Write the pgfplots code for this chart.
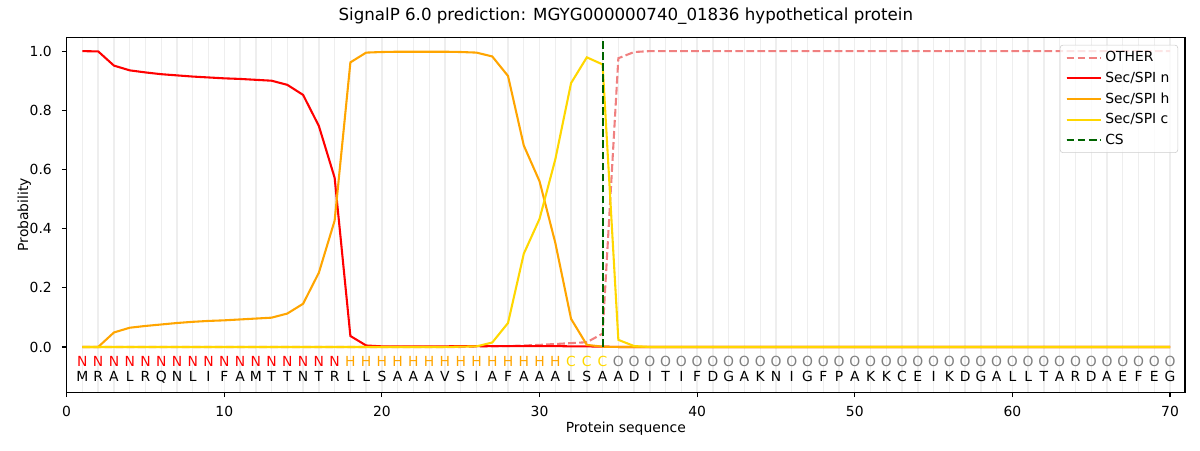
\documentclass[border=0pt]{standalone}
\usepackage{fontspec}
\setmainfont{DejaVu Sans}
\usepackage{pgfplots}
\usepackage{pgfplotstable}
\pgfplotsset{compat=1.18}
\definecolor{cother}{HTML}{F08080}
\definecolor{csecn}{HTML}{FF0000}
\definecolor{csech}{HTML}{FFA500}
\definecolor{csecc}{HTML}{FFD700}
\definecolor{ccs}{HTML}{006400}
\definecolor{cogray}{HTML}{808080}
\definecolor{cgrid}{HTML}{EEEEEE}

\pgfplotstableread{
x other n h c
1 0 1.000 0 0
2 0 0.999 0 0
3 0 0.951 0.049 0
4 0 0.935 0.065 0
5 0 0.928 0.071 0
6 0 0.922 0.076 0
7 0 0.918 0.081 0
8 0 0.914 0.085 0
9 0 0.911 0.088 0
10 0 0.908 0.090 0
11 0 0.906 0.093 0
12 0 0.903 0.096 0
13 0 0.900 0.099 0
14 0 0.886 0.113 0
15 0 0.852 0.146 0
16 0 0.747 0.251 0
17 0 0.572 0.427 0
18 0 0.037 0.962 0
19 0 0.005 0.995 0
20 0 0.002 0.997 0
21 0 0.002 0.998 0
22 0 0.002 0.998 0
23 0 0.002 0.998 0
24 0 0.002 0.998 0
25 0 0.003 0.997 0.001
26 0.001 0.003 0.995 0.002
27 0.002 0.003 0.982 0.015
28 0.003 0.003 0.916 0.081
29 0.005 0.003 0.681 0.315
30 0.007 0.003 0.560 0.433
31 0.010 0.003 0.352 0.634
32 0.013 0.002 0.095 0.892
33 0.016 0.002 0.007 0.979
34 0.045 0.001 0.001 0.955
35 0.976 0 0 0.024
36 0.997 0 0 0.003
37 1 0 0 0
38 1 0 0 0
39 1 0 0 0
40 1 0 0 0
41 1 0 0 0
42 1 0 0 0
43 1 0 0 0
44 1 0 0 0
45 1 0 0 0
46 1 0 0 0
47 1 0 0 0
48 1 0 0 0
49 1 0 0 0
50 1 0 0 0
51 1 0 0 0
52 1 0 0 0
53 1 0 0 0
54 1 0 0 0
55 1 0 0 0
56 1 0 0 0
57 1 0 0 0
58 1 0 0 0
59 1 0 0 0
60 1 0 0 0
61 1 0 0 0
62 1 0 0 0
63 1 0 0 0
64 1 0 0 0
65 1 0 0 0
66 1 0 0 0
67 1 0 0 0
68 1 0 0 0
69 1 0 0 0
70 1 0 0 0
}\probs

\pgfplotstableread{
x y res
1 -0.1176 M
2 -0.1176 R
3 -0.1176 A
4 -0.1176 L
5 -0.1176 R
6 -0.1176 Q
7 -0.1176 N
8 -0.1176 L
9 -0.1176 I
10 -0.1176 F
11 -0.1176 A
12 -0.1176 M
13 -0.1176 T
14 -0.1176 T
15 -0.1176 N
16 -0.1176 T
17 -0.1176 R
18 -0.1176 L
19 -0.1176 L
20 -0.1176 S
21 -0.1176 A
22 -0.1176 A
23 -0.1176 A
24 -0.1176 V
25 -0.1176 S
26 -0.1176 I
27 -0.1176 A
28 -0.1176 F
29 -0.1176 A
30 -0.1176 A
31 -0.1176 A
32 -0.1176 L
33 -0.1176 S
34 -0.1176 A
35 -0.1176 A
36 -0.1176 D
37 -0.1176 I
38 -0.1176 T
39 -0.1176 I
40 -0.1176 F
41 -0.1176 D
42 -0.1176 G
43 -0.1176 A
44 -0.1176 K
45 -0.1176 N
46 -0.1176 I
47 -0.1176 G
48 -0.1176 F
49 -0.1176 P
50 -0.1176 A
51 -0.1176 K
52 -0.1176 K
53 -0.1176 C
54 -0.1176 E
55 -0.1176 I
56 -0.1176 K
57 -0.1176 D
58 -0.1176 G
59 -0.1176 A
60 -0.1176 L
61 -0.1176 L
62 -0.1176 T
63 -0.1176 A
64 -0.1176 R
65 -0.1176 D
66 -0.1176 A
67 -0.1176 E
68 -0.1176 F
69 -0.1176 E
70 -0.1176 G
}\seqtab

\pgfplotstableread{
x y st
1 -0.0667 N
2 -0.0667 N
3 -0.0667 N
4 -0.0667 N
5 -0.0667 N
6 -0.0667 N
7 -0.0667 N
8 -0.0667 N
9 -0.0667 N
10 -0.0667 N
11 -0.0667 N
12 -0.0667 N
13 -0.0667 N
14 -0.0667 N
15 -0.0667 N
16 -0.0667 N
17 -0.0667 N
}\stN

\pgfplotstableread{
x y st
18 -0.0667 H
19 -0.0667 H
20 -0.0667 H
21 -0.0667 H
22 -0.0667 H
23 -0.0667 H
24 -0.0667 H
25 -0.0667 H
26 -0.0667 H
27 -0.0667 H
28 -0.0667 H
29 -0.0667 H
30 -0.0667 H
31 -0.0667 H
}\stH

\pgfplotstableread{
x y st
32 -0.0667 C
33 -0.0667 C
34 -0.0667 C
}\stC

\pgfplotstableread{
x y st
35 -0.0667 O
36 -0.0667 O
37 -0.0667 O
38 -0.0667 O
39 -0.0667 O
40 -0.0667 O
41 -0.0667 O
42 -0.0667 O
43 -0.0667 O
44 -0.0667 O
45 -0.0667 O
46 -0.0667 O
47 -0.0667 O
48 -0.0667 O
49 -0.0667 O
50 -0.0667 O
51 -0.0667 O
52 -0.0667 O
53 -0.0667 O
54 -0.0667 O
55 -0.0667 O
56 -0.0667 O
57 -0.0667 O
58 -0.0667 O
59 -0.0667 O
60 -0.0667 O
61 -0.0667 O
62 -0.0667 O
63 -0.0667 O
64 -0.0667 O
65 -0.0667 O
66 -0.0667 O
67 -0.0667 O
68 -0.0667 O
69 -0.0667 O
70 -0.0667 O
}\stO

\pgfplotsset{
  lettrs/.style={draw=none, mark=none, nodes near coords, point meta=explicit symbolic,
    every node near coord/.append style={anchor=base, inner sep=0pt, yshift=0pt, font=\fontsize{10}{12}\selectfont, text=#1}},
}

\begin{document}
\begin{tikzpicture}
\useasboundingbox (0,0) rectangle (864pt,324pt);
\begin{axis}[
  at={(48pt,41.6pt)}, anchor=south west,
  width=805.2pt, height=255.6pt, scale only axis,
  xmin=0, xmax=70.95, ymin=-0.153, ymax=1.047,
  axis line style={line width=0.8pt},
  xtick={0,10,20,30,40,50,60,70},
  ytick={0,0.2,0.4,0.6,0.8,1.0},
  /pgf/number format/assume math mode=true,
  tick align=outside, tick pos=left,
  major tick length=3.5pt,
  every tick/.style={black, line width=0.8pt},
  ticklabel style={font=\fontsize{10}{12}\selectfont},
  xticklabel style={anchor=base, inner sep=0pt, yshift=-14.1pt},
  yticklabel style={anchor=east, inner sep=0pt, xshift=-7pt,
    /pgf/number format/fixed, /pgf/number format/fixed zerofill, /pgf/number format/precision=1},
  minor xtick={1,2,...,70},
  minor tick length=0pt,
  xminorgrids=true,
  minor grid style={cgrid, line width=1pt},
  title={SignalP 6.0 prediction: MGYG000000740\_01836 hypothetical protein},
  title style={at={(axis description cs:0.5,1)}, anchor=base, yshift=6pt, font=\fontsize{12}{14}\selectfont},
  xlabel={Protein sequence},
  ylabel={Probability},
  every axis x label/.style={at={(axis description cs:0.5,0)}, anchor=base, yshift=-29.2pt, font=\fontsize{10}{12}\selectfont},
  every axis y label/.style={at={(axis description cs:0,0.5)}, rotate=90, anchor=base, yshift=27.8pt, font=\fontsize{10}{12}\selectfont},
  legend style={at={(axis description cs:1,1)}, anchor=north east, xshift=-5pt, yshift=-5.5pt,
    draw=black!20, rounded corners=2pt, fill=white, fill opacity=0.8, text opacity=1,
    font=\fontsize{10}{12}\selectfont, inner xsep=4pt, inner ysep=2.5pt, row sep=1.9pt},
  legend cell align=left,
  legend image code/.code={\draw[#1] (0pt,0pt) -- (21pt,0pt); \path (0pt,0pt) -- (25pt,0pt);},
]
\addplot[cother, line width=1.5pt, dash pattern=on 5.55pt off 2.4pt] table[x=x, y=other] {\probs};
\addlegendentry{OTHER}
\addplot[csecn, line width=1.5pt] table[x=x, y=n] {\probs};
\addlegendentry{Sec/SPI n}
\addplot[csech, line width=1.5pt] table[x=x, y=h] {\probs};
\addlegendentry{Sec/SPI h}
\addplot[csecc, line width=1.5pt] table[x=x, y=c] {\probs};
\addlegendentry{Sec/SPI c}
\addplot[ccs, line width=1.5pt, dash pattern=on 5.55pt off 2.4pt] coordinates {(34,0) (34,1.04)};
\addlegendentry{CS}
\addplot[lettrs=csecn, forget plot] table[x=x, y=y, meta=st] {\stN};
\addplot[lettrs=csech, forget plot] table[x=x, y=y, meta=st] {\stH};
\addplot[lettrs=csecc, forget plot] table[x=x, y=y, meta=st] {\stC};
\addplot[lettrs=cogray, forget plot] table[x=x, y=y, meta=st] {\stO};
\addplot[lettrs=black, forget plot] table[x=x, y=y, meta=res] {\seqtab};
\end{axis}
\end{tikzpicture}
\end{document}
